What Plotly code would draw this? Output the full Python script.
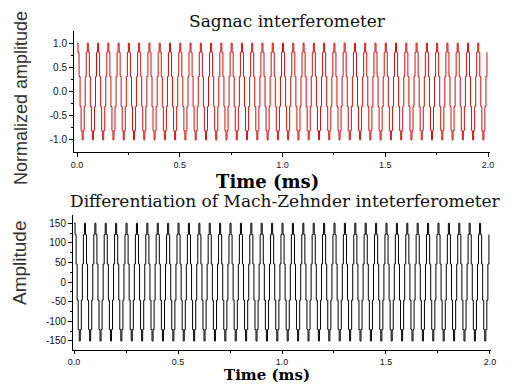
import plotly.graph_objects as go

# ---------------- data ----------------
sample_interval_ms = 0.005

# Sagnac interferometer output, normalized (stepped / sampled sine, ~0.05 ms period)
sagnac_amplitude = [
    1.0, 0.81, 0.31, -0.31, -0.81, -1.0, -0.81, -0.31, 0.31, 0.81,
    1.0, 0.81, 0.31, -0.31, -0.81, -1.0, -0.81, -0.31, 0.31, 0.81,
    1.0, 0.81, 0.31, -0.31, -0.81, -1.0, -0.81, -0.31, 0.31, 0.81,
    1.0, 0.81, 0.31, -0.31, -0.81, -1.0, -0.81, -0.31, 0.31, 0.81,
    1.0, 0.81, 0.31, -0.31, -0.81, -1.0, -0.81, -0.31, 0.31, 0.81,
    1.0, 0.81, 0.31, -0.31, -0.81, -1.0, -0.81, -0.31, 0.31, 0.81,
    1.0, 0.81, 0.31, -0.31, -0.81, -1.0, -0.81, -0.31, 0.31, 0.81,
    1.0, 0.81, 0.31, -0.31, -0.81, -1.0, -0.81, -0.31, 0.31, 0.81,
    1.0, 0.81, 0.31, -0.31, -0.81, -1.0, -0.81, -0.31, 0.31, 0.81,
    1.0, 0.81, 0.31, -0.31, -0.81, -1.0, -0.81, -0.31, 0.31, 0.81,
    1.0, 0.81, 0.31, -0.31, -0.81, -1.0, -0.81, -0.31, 0.31, 0.81,
    1.0, 0.81, 0.31, -0.31, -0.81, -1.0, -0.81, -0.31, 0.31, 0.81,
    1.0, 0.81, 0.31, -0.31, -0.81, -1.0, -0.81, -0.31, 0.31, 0.81,
    1.0, 0.81, 0.31, -0.31, -0.81, -1.0, -0.81, -0.31, 0.31, 0.81,
    1.0, 0.81, 0.31, -0.31, -0.81, -1.0, -0.81, -0.31, 0.31, 0.81,
    1.0, 0.81, 0.31, -0.31, -0.81, -1.0, -0.81, -0.31, 0.31, 0.81,
    1.0, 0.81, 0.31, -0.31, -0.81, -1.0, -0.81, -0.31, 0.31, 0.81,
    1.0, 0.81, 0.31, -0.31, -0.81, -1.0, -0.81, -0.31, 0.31, 0.81,
    1.0, 0.81, 0.31, -0.31, -0.81, -1.0, -0.81, -0.31, 0.31, 0.81,
    1.0, 0.81, 0.31, -0.31, -0.81, -1.0, -0.81, -0.31, 0.31, 0.81,
    1.0, 0.81, 0.31, -0.31, -0.81, -1.0, -0.81, -0.31, 0.31, 0.81,
    1.0, 0.81, 0.31, -0.31, -0.81, -1.0, -0.81, -0.31, 0.31, 0.81,
    1.0, 0.81, 0.31, -0.31, -0.81, -1.0, -0.81, -0.31, 0.31, 0.81,
    1.0, 0.81, 0.31, -0.31, -0.81, -1.0, -0.81, -0.31, 0.31, 0.81,
    1.0, 0.81, 0.31, -0.31, -0.81, -1.0, -0.81, -0.31, 0.31, 0.81,
    1.0, 0.81, 0.31, -0.31, -0.81, -1.0, -0.81, -0.31, 0.31, 0.81,
    1.0, 0.81, 0.31, -0.31, -0.81, -1.0, -0.81, -0.31, 0.31, 0.81,
    1.0, 0.81, 0.31, -0.31, -0.81, -1.0, -0.81, -0.31, 0.31, 0.81,
    1.0, 0.81, 0.31, -0.31, -0.81, -1.0, -0.81, -0.31, 0.31, 0.81,
    1.0, 0.81, 0.31, -0.31, -0.81, -1.0, -0.81, -0.31, 0.31, 0.81,
    1.0, 0.81, 0.31, -0.31, -0.81, -1.0, -0.81, -0.31, 0.31, 0.81,
    1.0, 0.81, 0.31, -0.31, -0.81, -1.0, -0.81, -0.31, 0.31, 0.81,
    1.0, 0.81, 0.31, -0.31, -0.81, -1.0, -0.81, -0.31, 0.31, 0.81,
    1.0, 0.81, 0.31, -0.31, -0.81, -1.0, -0.81, -0.31, 0.31, 0.81,
    1.0, 0.81, 0.31, -0.31, -0.81, -1.0, -0.81, -0.31, 0.31, 0.81,
    1.0, 0.81, 0.31, -0.31, -0.81, -1.0, -0.81, -0.31, 0.31, 0.81,
    1.0, 0.81, 0.31, -0.31, -0.81, -1.0, -0.81, -0.31, 0.31, 0.81,
    1.0, 0.81, 0.31, -0.31, -0.81, -1.0, -0.81, -0.31, 0.31, 0.81,
    1.0, 0.81, 0.31, -0.31, -0.81, -1.0, -0.81, -0.31, 0.31, 0.81,
    1.0, 0.81, 0.31, -0.31, -0.81, -1.0, -0.81, -0.31, 0.31, 0.81,
]

# Differentiated Mach-Zehnder output (stepped sine, amplitude ~150)
mz_diff_amplitude = [
    150, 121, 46, -46, -121, -150, -121, -46, 46, 121,
    150, 121, 46, -46, -121, -150, -121, -46, 46, 121,
    150, 121, 46, -46, -121, -150, -121, -46, 46, 121,
    150, 121, 46, -46, -121, -150, -121, -46, 46, 121,
    150, 121, 46, -46, -121, -150, -121, -46, 46, 121,
    150, 121, 46, -46, -121, -150, -121, -46, 46, 121,
    150, 121, 46, -46, -121, -150, -121, -46, 46, 121,
    150, 121, 46, -46, -121, -150, -121, -46, 46, 121,
    150, 121, 46, -46, -121, -150, -121, -46, 46, 121,
    150, 121, 46, -46, -121, -150, -121, -46, 46, 121,
    150, 121, 46, -46, -121, -150, -121, -46, 46, 121,
    150, 121, 46, -46, -121, -150, -121, -46, 46, 121,
    150, 121, 46, -46, -121, -150, -121, -46, 46, 121,
    150, 121, 46, -46, -121, -150, -121, -46, 46, 121,
    150, 121, 46, -46, -121, -150, -121, -46, 46, 121,
    150, 121, 46, -46, -121, -150, -121, -46, 46, 121,
    150, 121, 46, -46, -121, -150, -121, -46, 46, 121,
    150, 121, 46, -46, -121, -150, -121, -46, 46, 121,
    150, 121, 46, -46, -121, -150, -121, -46, 46, 121,
    150, 121, 46, -46, -121, -150, -121, -46, 46, 121,
    150, 121, 46, -46, -121, -150, -121, -46, 46, 121,
    150, 121, 46, -46, -121, -150, -121, -46, 46, 121,
    150, 121, 46, -46, -121, -150, -121, -46, 46, 121,
    150, 121, 46, -46, -121, -150, -121, -46, 46, 121,
    150, 121, 46, -46, -121, -150, -121, -46, 46, 121,
    150, 121, 46, -46, -121, -150, -121, -46, 46, 121,
    150, 121, 46, -46, -121, -150, -121, -46, 46, 121,
    150, 121, 46, -46, -121, -150, -121, -46, 46, 121,
    150, 121, 46, -46, -121, -150, -121, -46, 46, 121,
    150, 121, 46, -46, -121, -150, -121, -46, 46, 121,
    150, 121, 46, -46, -121, -150, -121, -46, 46, 121,
    150, 121, 46, -46, -121, -150, -121, -46, 46, 121,
    150, 121, 46, -46, -121, -150, -121, -46, 46, 121,
    150, 121, 46, -46, -121, -150, -121, -46, 46, 121,
    150, 121, 46, -46, -121, -150, -121, -46, 46, 121,
    150, 121, 46, -46, -121, -150, -121, -46, 46, 121,
    150, 121, 46, -46, -121, -150, -121, -46, 46, 121,
    150, 121, 46, -46, -121, -150, -121, -46, 46, 121,
    150, 121, 46, -46, -121, -150, -121, -46, 46, 121,
    150, 121, 46, -46, -121, -150, -121, -46, 46, 121,
]

time_ms = [i * sample_interval_ms for i in range(len(sagnac_amplitude))]

time_tick_values = [0.0, 0.5, 1.0, 1.5, 2.0]
time_tick_labels = ["0.0", "0.5", "1.0", "1.5", "2.0"]
time_minor_ticks = [0.25, 0.75, 1.25, 1.75]

sagnac_tick_values = [-1.0, -0.5, 0.0, 0.5, 1.0]
sagnac_tick_labels = ["-1.0", "-0.5", "0.0", "0.5", "1.0"]
sagnac_minor_ticks = [-0.75, -0.25, 0.25, 0.75]

mz_tick_values = [-150, -100, -50, 0, 50, 100, 150]
mz_tick_labels = ["-150", "-100", "-50", "0", "50", "100", "150"]
mz_minor_ticks = [-125, -75, -25, 25, 75, 125]

top_title = "Sagnac interferometer"
bottom_title = "Differentiation of Mach-Zehnder inteterferometer"
x_title = "Time (ms)"
top_y_title = "Normalized amplitude"
bottom_y_title = "Amplitude"

# ---------------- figure ----------------
W, H = 512, 385


def px(x):
    return x / W


def py(y):
    return 1 - y / H


fig = go.Figure()
fig.add_trace(go.Scatter(
    x=time_ms, y=sagnac_amplitude, mode="lines",
    line=dict(color="#cc1111", width=1, shape="hv"),
    xaxis="x", yaxis="y", hoverinfo="skip"))
fig.add_trace(go.Scatter(
    x=time_ms, y=mz_diff_amplitude, mode="lines",
    line=dict(color="#000000", width=1, shape="hv"),
    xaxis="x2", yaxis="y2", hoverinfo="skip"))

tick_font = dict(family="Liberation Sans, Arial, sans-serif", size=10, color="#111111")
xtick_font = dict(family="Liberation Sans, Arial, sans-serif", size=9, color="#111111")

common_axis = dict(
    showline=True, linecolor="#000000", linewidth=1,
    showgrid=False, zeroline=False,
    ticks="outside", ticklen=4, tickwidth=1, tickcolor="#000000",
    tickfont=tick_font, fixedrange=True, automargin=False,
)

fig.update_layout(
    width=W, height=H,
    margin=dict(l=0, r=0, t=0, b=0, pad=0),
    paper_bgcolor="white", plot_bgcolor="white",
    showlegend=False,
    xaxis=dict(
        common_axis, domain=[px(74), px(490)], anchor="y",
        range=[-0.0146, 2.0097],
        tickvals=time_tick_values, ticktext=time_tick_labels,
        tickfont=xtick_font,
        minor=dict(tickvals=time_minor_ticks, ticks="outside", ticklen=2, tickcolor="#000000"),
    ),
    yaxis=dict(
        common_axis, domain=[py(152), py(31)], anchor="x",
        range=[-1.25, 1.25],
        tickvals=sagnac_tick_values, ticktext=sagnac_tick_labels,
        minor=dict(tickvals=sagnac_minor_ticks, ticks="outside", ticklen=2, tickcolor="#000000"),
    ),
    xaxis2=dict(
        common_axis, domain=[px(73), px(491)], anchor="y2",
        range=[-0.005, 2.005],
        tickvals=time_tick_values, ticktext=time_tick_labels,
        tickfont=xtick_font, ticklen=3,
        minor=dict(tickvals=time_minor_ticks, ticks="outside", ticklen=2, tickcolor="#000000"),
    ),
    yaxis2=dict(
        common_axis, domain=[py(350), py(215)], anchor="x2",
        range=[-173, 171],
        tickvals=mz_tick_values, ticktext=mz_tick_labels,
        minor=dict(tickvals=mz_minor_ticks, ticks="outside", ticklen=2, tickcolor="#000000"),
    ),
)

serif = "DejaVu Serif, Liberation Serif, serif"
sans = "Liberation Sans, Arial, sans-serif"

annotations = [
    dict(text=top_title, x=px(287), y=py(21), yanchor="middle",
         font=dict(family=serif, size=17, color="#111111")),
    dict(text=bottom_title, x=px(285), y=py(201), yanchor="middle",
         font=dict(family=serif, size=17, color="#111111")),
    dict(text="<b>" + x_title + "</b>", x=px(267), y=py(181), yanchor="middle",
         font=dict(family=serif, size=18, color="#000000")),
    dict(text="<b>" + x_title + "</b>", x=px(267), y=0, yanchor="bottom", borderpad=0,
         font=dict(family=serif, size=15, color="#000000")),
    dict(text=top_y_title, x=px(21), y=py(98), yanchor="middle", textangle=-90,
         font=dict(family=sans, size=18, color="#333333")),
    dict(text=bottom_y_title, x=px(19), y=py(263), yanchor="middle", textangle=-90,
         font=dict(family=sans, size=19, color="#333333")),
]
for a in annotations:
    a.update(xref="paper", yref="paper", showarrow=False, xanchor="center")
fig.update_layout(annotations=annotations)

fig.write_html(
    "out.html",
    config={"displayModeBar": False, "staticPlot": True},
    post_script="document.body.style.margin='0';document.body.style.padding='0';document.body.style.overflow='hidden';",
)
